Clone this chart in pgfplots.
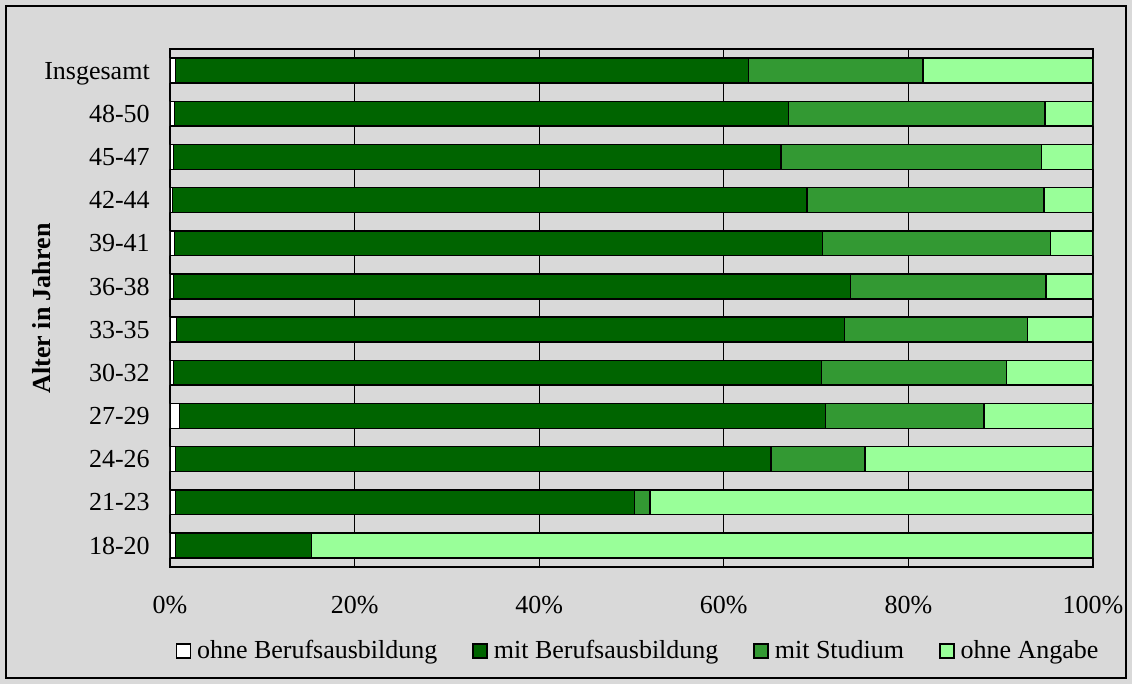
\documentclass[border=0pt]{standalone}
\usepackage{fontspec}
\setmainfont{Liberation Serif}
\usepackage{pgfplots}
\pgfplotsset{compat=1.18}
\definecolor{bgc}{HTML}{D9D9D9}
\definecolor{dgreen}{HTML}{006400}
\definecolor{mgreen}{HTML}{339933}
\definecolor{lgreen}{HTML}{99FF99}
\begin{document}
\begin{tikzpicture}[font=\fontsize{13}{15.6}\selectfont]
\fill[bgc] (0,0) rectangle (566pt,342pt);
\draw[line width=1pt] (3pt,3pt) rectangle (563pt,339pt);
\begin{axis}[
  at={(85pt,58.5pt)}, anchor=south west,
  width=461.5pt, height=259pt, scale only axis,
  xbar stacked, bar width=12.4pt,
  xmin=0, xmax=100, ymin=-0.5, ymax=11.5,
  xtick={0,20,40,60,80,100},
  xticklabel={\pgfmathprintnumber{\tick}\%},
  /pgf/number format/assume math mode=true,
  ytick={0,1,2,3,4,5,6,7,8,9,10,11},
  yticklabels={18-20,21-23,24-26,27-29,30-32,33-35,36-38,39-41,42-44,45-47,48-50,Insgesamt},
  xticklabel style={anchor=base, yshift=-23.5pt, font=\fontsize{13}{15.6}\selectfont},
  yticklabel style={anchor=base east, xshift=-6.6pt, yshift=-4.3pt, font=\fontsize{13}{15.6}\selectfont},
  xmajorgrids, grid style={black, line width=0.6pt},
  major tick length=0pt,
  axis line style={black, line width=0.8pt},
  every axis plot/.append style={draw=black, line width=0.7pt},
  legend columns=4,
  legend style={at={(0.506,-0.162)}, anchor=center, draw=none, fill=none,
    font=\fontsize{13}{15.6}\selectfont,
    nodes={inner xsep=0pt},
    /tikz/every odd column/.style={column sep=3pt},
    /tikz/every even column/.style={column sep=17.5pt}},
  legend image code/.code={\draw[#1, draw=black, line width=0.7pt] (0pt,-3.5pt) rectangle (7pt,3.5pt);},
]
\addplot[fill=white] coordinates {(0.6,0) (0.6,1) (0.6,2) (1.0,3) (0.4,4) (0.7,5) (0.4,6) (0.5,7) (0.3,8) (0.4,9) (0.5,10) (0.6,11)};
\addplot[fill=dgreen] coordinates {(14.7,0) (49.7,1) (64.5,2) (70.0,3) (70.2,4) (72.4,5) (73.3,6) (70.2,7) (68.7,8) (65.8,9) (66.5,10) (62.1,11)};
\addplot[fill=mgreen] coordinates {(0.0,0) (1.7,1) (10.2,2) (17.2,3) (20.0,4) (19.8,5) (21.2,6) (24.7,7) (25.7,8) (28.2,9) (27.8,10) (18.9,11)};
\addplot[fill=lgreen] coordinates {(84.7,0) (48.0,1) (24.7,2) (11.8,3) (9.4,4) (7.1,5) (5.1,6) (4.6,7) (5.3,8) (5.6,9) (5.2,10) (18.4,11)};
\legend{ohne Berufsausbildung, mit Berufsausbildung, mit Studium, ohne Angabe}
\end{axis}
\node[rotate=90, font=\fontsize{13}{15.6}\selectfont\bfseries] at (21pt,187.75pt) {Alter in Jahren};
\end{tikzpicture}
\end{document}
